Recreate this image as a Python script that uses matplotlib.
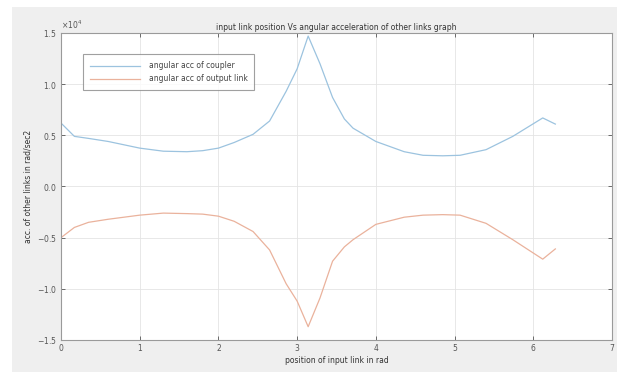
import numpy as np
import matplotlib
matplotlib.use('Agg')
import matplotlib.pyplot as plt
from matplotlib.ticker import ScalarFormatter
from matplotlib.patches import Rectangle

plt.rcParams['axes.unicode_minus'] = False

# input link position (rad)
theta = [0, 0.17, 0.35, 0.6, 1.0, 1.3, 1.6, 1.8, 2.0, 2.2, 2.44, 2.65, 2.86, 3.0,
         3.14, 3.29, 3.45, 3.6, 3.71, 4.0, 4.36, 4.6, 4.85, 5.07, 5.4, 5.74, 6.12, 6.28]

# angular accelerations, in units of 1e4 rad/sec2
acc_coupler = [0.62, 0.49, 0.47, 0.44, 0.375, 0.345, 0.34, 0.35, 0.375, 0.43, 0.51, 0.64,
               0.93, 1.15, 1.47, 1.2, 0.87, 0.66, 0.57, 0.44, 0.34, 0.305, 0.30, 0.305,
               0.36, 0.49, 0.67, 0.61]
acc_output = [-0.5, -0.4, -0.35, -0.32, -0.28, -0.26, -0.265, -0.27, -0.29, -0.34, -0.44,
              -0.62, -0.95, -1.12, -1.37, -1.09, -0.73, -0.59, -0.52, -0.37, -0.30, -0.28,
              -0.275, -0.28, -0.36, -0.52, -0.71, -0.61]

labels = ['angular acc of coupler', 'angular acc of output link']

fig = plt.figure(figsize=(6.17, 3.72), dpi=100, facecolor='white')
# grey matlab window background
fig.patches.append(Rectangle((12 / 617, 0), 1, 1 - 7 / 372, transform=fig.transFigure,
                             facecolor='#efefef', edgecolor='none', zorder=-10))

ax = fig.add_axes([61 / 617, 32 / 372, 551 / 617, 307 / 372])
ax.set_facecolor('white')

ax.plot(theta, np.array(acc_coupler) * 1e4, color='#9cc3df', linewidth=0.9, label=labels[0])
ax.plot(theta, np.array(acc_output) * 1e4, color='#eab29c', linewidth=0.9, label=labels[1])

ax.set_xlim(0, 7)
ax.set_ylim(-1.5e4, 1.5e4)
ax.set_xticks(range(0, 8))
ax.set_yticks(np.arange(-1.5e4, 1.51e4, 0.5e4))

fmt = ScalarFormatter(useMathText=True)
fmt.set_powerlimits((0, 0))
ax.yaxis.set_major_formatter(fmt)
ax.yaxis.get_offset_text().set_fontsize(5.5)
ax.yaxis.get_offset_text().set_color('#555555')

ax.grid(True, color='#e4e4e4', linewidth=0.6)
ax.tick_params(direction='in', length=3, width=0.6, labelsize=5.5, colors='#555555',
               top=True, right=True, pad=3)
for s in ax.spines.values():
    s.set_color('#9a9a9a')
    s.set_linewidth(0.8)

ax.set_title('input link position Vs angular acceleration of other links graph',
             fontsize=5.5, color='#333333', pad=2)
ax.set_xlabel('position of input link in rad', fontsize=5.5, color='#333333', labelpad=2)
ax.set_ylabel('acc. of other links in rad/sec2', fontsize=5.5, color='#333333', labelpad=3)

leg = ax.legend(loc='upper left', bbox_to_anchor=(0.04, 0.93), fontsize=5.5,
                frameon=True, fancybox=False, handlelength=6.5, borderpad=0.9,
                labelspacing=0.5, handletextpad=1.2, borderaxespad=0)
leg.get_frame().set_edgecolor('#888888')
leg.get_frame().set_linewidth(0.8)
for t in leg.get_texts():
    t.set_color('#444444')

fig.savefig('out.png', dpi=100, facecolor=fig.get_facecolor())
